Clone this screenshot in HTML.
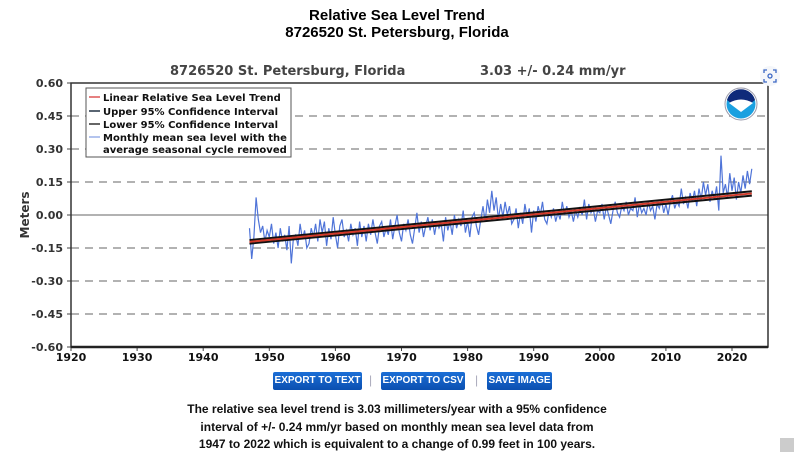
<!DOCTYPE html>
<html><head><meta charset="utf-8"><style>
body{margin:0;width:794px;height:452px;background:#fff;font-family:"Liberation Sans","DejaVu Sans",sans-serif;position:relative;overflow:hidden}
.t{position:absolute;left:0;width:794px;text-align:center;font-weight:bold;font-size:15px;color:#000}
.btn{position:absolute;top:372px;height:18px;line-height:18px;background:linear-gradient(#1b6fd6,#0b4fb0);color:#fff;font-size:10px;font-weight:bold;text-align:center;border-radius:2px;white-space:nowrap;overflow:hidden}
.sep{position:absolute;top:373px;color:#aab;font-size:12px}
.note{position:absolute;left:0;width:794px;text-align:center;font-weight:bold;font-size:12px;color:#111}
</style></head><body>
<div class="t" style="top:7px">Relative Sea Level Trend</div>
<div class="t" style="top:24px">8726520 St. Petersburg, Florida</div>
<svg id="c" width="794" height="400" style="position:absolute;left:0;top:0" font-family="DejaVu Sans, Liberation Sans, sans-serif"></svg>
<div class="btn" style="left:273px;width:89px">EXPORT TO TEXT</div>
<span class="sep" style="left:369px">|</span>
<div class="btn" style="left:381px;width:84px">EXPORT TO CSV</div>
<span class="sep" style="left:475px">|</span>
<div class="btn" style="left:487px;width:65px">SAVE IMAGE</div>
<div class="note" style="top:402px">The relative sea level trend is 3.03 millimeters/year with a 95% confidence</div>
<div class="note" style="top:420px">interval of +/- 0.24 mm/yr based on monthly mean sea level data from</div>
<div class="note" style="top:437px">1947 to 2022 which is equivalent to a change of 0.99 feet in 100 years.</div>
<div style="position:absolute;left:780px;top:438px;width:14px;height:14px;background:#ccc"></div>
<script>
const yTicks=[0.60,0.45,0.30,0.15,0.00,-0.15,-0.30,-0.45,-0.60];
const xTicks=[1920,1930,1940,1950,1960,1970,1980,1990,2000,2010,2020];
const startYear=1947;
const perYear=3;
const sea=[-0.06,-0.20,-0.10,0.08,-0.02,-0.08,-0.05,-0.12,-0.07,-0.10,-0.04,-0.13,-0.08,-0.15,-0.06,-0.12,-0.09,-0.16,-0.05,-0.22,-0.10,-0.09,-0.14,-0.04,-0.11,-0.07,-0.15,-0.13,-0.06,-0.10,-0.04,-0.12,-0.02,-0.08,-0.03,-0.14,-0.06,-0.11,-0.01,-0.09,-0.15,-0.05,-0.02,-0.10,-0.07,-0.12,-0.04,-0.09,-0.06,-0.14,-0.03,-0.10,-0.05,-0.12,-0.04,-0.09,-0.02,-0.08,-0.13,-0.05,-0.03,-0.10,-0.06,-0.09,-0.02,-0.11,-0.05,0.00,-0.08,-0.12,-0.04,-0.07,-0.02,-0.09,-0.13,-0.06,0.01,-0.08,-0.03,-0.10,-0.05,-0.01,-0.07,-0.02,-0.09,-0.03,-0.06,-0.04,-0.12,-0.01,-0.07,-0.03,-0.09,0.00,-0.06,-0.02,-0.05,0.02,-0.08,-0.03,-0.10,-0.01,0.01,-0.05,-0.09,-0.02,0.04,-0.03,0.07,0.01,0.11,0.02,0.08,-0.02,0.05,-0.01,0.06,0.00,0.04,-0.04,-0.02,0.03,-0.06,0.01,-0.04,0.05,-0.01,0.03,-0.08,0.02,-0.03,0.04,0.00,0.06,-0.02,-0.04,0.02,-0.01,0.03,-0.03,0.01,-0.02,0.06,0.00,0.04,-0.01,0.02,-0.03,0.02,-0.01,0.03,0.00,0.07,-0.02,0.05,0.01,0.03,-0.03,0.02,0.01,0.05,-0.02,0.04,0.00,-0.04,0.02,0.06,0.01,-0.01,0.04,0.02,0.06,0.00,0.03,0.02,0.08,-0.01,0.05,0.01,0.03,0.00,0.06,0.02,0.04,-0.02,0.05,0.03,0.07,0.01,0.05,0.00,0.06,0.09,0.03,0.06,0.04,0.12,0.05,0.08,0.03,0.10,0.06,0.11,0.04,0.12,0.07,0.15,0.09,0.14,0.06,0.11,0.07,0.13,0.02,0.27,0.10,0.14,0.08,0.19,0.11,0.17,0.07,0.15,0.10,0.18,0.12,0.20,0.14,0.21];
const trendYears=[1947,2023];
const trendVals=[-0.122,0.098];
const ciUpper=[-0.114,0.108];
const ciLower=[-0.130,0.088];
const NS='http://www.w3.org/2000/svg';
const svg=document.getElementById('c');
const L=71,R=768,T=83,B=347;
const xs=y=>L+(y-1920)*6.61;
const ys=v=>T+(0.6-v)*(B-T)/1.2;
function mk(t,a,p){const e=document.createElementNS(NS,t);for(const k in a)e.setAttribute(k,a[k]);(p||svg).appendChild(e);return e;}
let e;
e=mk('text',{x:170,y:75,'font-size':13,'font-weight':'bold',fill:'#444'});e.textContent='8726520 St. Petersburg, Florida';


e=mk('text',{x:480,y:75,'font-size':13,'font-weight':'bold',fill:'#444','xml:space':'preserve'});e.textContent='3.03 +/-  0.24 mm/yr';


yTicks.forEach(v=>{
 const y=ys(v);
 if(Math.abs(v)<1e-9){e=mk('line',{x1:L,x2:R,y1:y,y2:y,stroke:'#999','stroke-width':1.5});}
 else if(Math.abs(v)<0.59){e=mk('line',{x1:L,x2:R,y1:y,y2:y,stroke:'#999','stroke-width':1.5,'stroke-dasharray':'8,6'});}
 e=mk('line',{x1:L-4,x2:L,y1:y,y2:y,stroke:'#444'});
 e=mk('text',{x:63,y:y+4,'font-size':11,'font-weight':'bold','text-anchor':'end',fill:'#333'});
 e.textContent=v.toFixed(2);
 
 
});
xTicks.forEach(t=>{
 const x=xs(t);
 e=mk('line',{x1:x,x2:x,y1:B,y2:B+4,stroke:'#444'});
 e=mk('text',{x:x,y:361,'font-size':11,'font-weight':'bold','text-anchor':'middle',fill:'#111'});
 e.textContent=t;
 
 
});
e=mk('text',{x:0,y:0,'font-size':12,'font-weight':'bold',fill:'#333','text-anchor':'middle',transform:'translate(29,215) rotate(-90)'});e.textContent='Meters';


const pts=sea.map((v,i)=>xs(startYear+i/perYear).toFixed(1)+','+ys(v).toFixed(1)).join(' ');
e=mk('polyline',{points:pts,fill:'none',stroke:'#4f74d8','stroke-width':1.2});


function ln(vals,col,w,name){e=mk('line',{x1:xs(trendYears[0]),x2:xs(trendYears[1]),y1:ys(vals[0]),y2:ys(vals[1]),stroke:col,'stroke-width':w});
 
 }
ln(ciUpper,'#111',2,'upper-ci-line');
ln(ciLower,'#111',2,'lower-ci-line');
ln(trendVals,'#d23a2a',2,'linear-trend-line');
e=mk('rect',{x:L,y:T,width:R-L,height:B-T,fill:'none',stroke:'#333','stroke-width':1.5});
e=mk('line',{x1:L,x2:R,y1:B,y2:B,stroke:'#222','stroke-width':2.5});
const lg=mk('g',{});


mk('rect',{x:86,y:88,width:205,height:69,fill:'#fff',stroke:'#555'},lg);
const items=[['#d55','Linear Relative Sea Level Trend',101],['#234','Upper 95% Confidence Interval',115],['#333','Lower 95% Confidence Interval',128],['#9ab0e8','Monthly mean sea level with the',141]];
items.forEach(it=>{
 mk('line',{x1:89,x2:100,y1:it[2]-4,y2:it[2]-4,stroke:it[0],'stroke-width':1.5},lg);
 e=mk('text',{x:103,y:it[2],'font-size':10,'font-weight':'bold',fill:'#111'},lg);e.textContent=it[1];
 
 
});
e=mk('text',{x:103,y:153,'font-size':10,'font-weight':'bold',fill:'#111'},lg);e.textContent='average seasonal cycle removed';
const g=mk('g',{});


mk('circle',{cx:741,cy:104,r:16,fill:'#fff',stroke:'#99a',"stroke-width":1},g);
mk('circle',{cx:741,cy:104,r:14.5,fill:'#1aa0e0'},g);
mk('path',{d:'M727,100 A14.5,14.5 0 0 1 755,100 L741,111 Z',fill:'#0f2a7a'},g);
mk('path',{d:'M729,103 Q741,96 753,103 L741,112 Z',fill:'#fff'},g);
const cm=mk('g',{});


mk('circle',{cx:770,cy:76,r:10,fill:'#f4f6fa'},cm);
mk('path',{d:'M764,73v-3h3M773,70h3v3M776,79v3h-3M767,82h-3v-3',fill:'none',stroke:'#3a66c4','stroke-width':1.3},cm);
mk('circle',{cx:770,cy:76,r:2,fill:'none',stroke:'#3a66c4','stroke-width':1.3},cm);
</script>
</body></html>
